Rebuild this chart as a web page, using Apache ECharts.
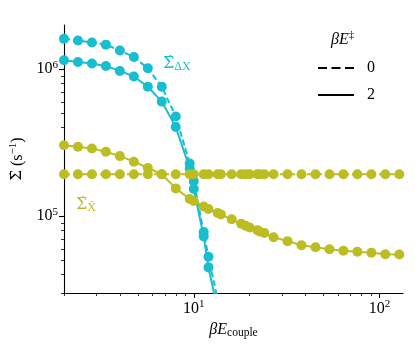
<!DOCTYPE html>
<html><head><meta charset="utf-8">
<script src="https://cdn.jsdelivr.net/npm/echarts@6/dist/echarts.min.js"></script>
<style>html,body{margin:0;padding:0;background:#fff}#c{width:415px;height:348px}</style>
</head><body><div id="c"></div>
<script>
// x values (βE_couple)
const xValues = [2, 2.378, 2.828, 3.364, 4, 4.757, 5.657, 6.727, 8, 9.514, 10, 11.31, 12, 13.45, 14, 16, 18, 19.03, 20, 22, 22.63, 24, 26.91, 32, 38.05, 45.25, 53.82, 64, 76.1, 90.5, 107.6, 128];
// Σ̇_ΔX, βE‡ = 0 (dashed) and 2 (solid)
const cyanDashed = [1.61e6, 1.57e6, 1.52e6, 1.47e6, 1.34e6, 1.21e6, 1.016e6, 7.6e5, 4.77e5, 2.28e5, 1.73e5, 7.8e4, 5.29e4, 2.7e4];
const cyanSolid  = [1.15e6, 1.12e6, 1.093e6, 1.053e6, 9.74e5, 8.93e5, 7.6e5, 6.02e5, 4.04e5, 2.11e5, 1.53e5, 7.29e4, 4.48e4, 2.3e4];
// Σ̇_X̄, βE‡ = 0 (dashed) and 2 (solid)
const oliveDashed = [1.93e5, 1.93e5, 1.93e5, 1.93e5, 1.93e5, 1.93e5, 1.93e5, 1.93e5, 1.93e5, 1.93e5, 1.93e5, 1.93e5, 1.93e5, 1.93e5, 1.93e5, 1.93e5, 1.93e5, 1.93e5, 1.93e5, 1.93e5, 1.93e5, 1.93e5, 1.93e5, 1.93e5, 1.93e5, 1.93e5, 1.93e5, 1.93e5, 1.93e5, 1.93e5, 1.93e5, 1.93e5];
const oliveSolid = [3.04e5, 2.965e5, 2.888e5, 2.744e5, 2.563e5, 2.349e5, 2.127e5, 1.929e5, 1.545e5, 1.308e5, 1.27e5, 1.164e5, 1.12e5, 1.052e5, 1.028e5, 9.52e4, 8.87e4, 8.6e4, 8.38e4, 8.02e4, 7.87e4, 7.68e4, 7.19e4, 6.76e4, 6.34e4, 6.14e4, 5.95e4, 5.81e4, 5.72e4, 5.63e4, 5.51e4, 5.48e4];
// ticks
const xMajor = [10, 100];
const xMinor = [2,3,4,5,6,7,8,9,20,30,40,50,60,70,80,90];
const yMajor = [1e5, 1e6];
const yMinor = [3e4,4e4,5e4,6e4,7e4,8e4,9e4,2e5,3e5,4e5,5e5,6e5,7e5,8e5,9e5];
const legendLabels = ['0', '2'];

const CYAN = '#17becf', OLIVE = '#bcbd22';
const FONT = 'Liberation Serif';
const SFONT = 'DejaVu Serif';
const pairs = (ys) => ys.map((y, i) => [xValues[i], y]);
const powLabel = v => '{b|10}{s|' + Math.round(Math.log10(v)) + '}';
const labelRich = { b: {fontSize: 16, fontFamily: FONT, color: '#000'}, s: {fontSize: 11, fontFamily: FONT, color: '#000', padding: [0,0,9,0]} };

function mkSeries(name, ys, color, dashed) {
  return {
    name: name, type: 'line', xAxisIndex: 0, yAxisIndex: 0,
    data: pairs(ys), symbol: 'circle', symbolSize: 10, showSymbol: true,
    itemStyle: {color: color}, lineStyle: {color: color, width: 2, type: dashed ? [6, 3] : 'solid'},
    emphasis: {disabled: true}, silent: true, animation: false, clip: true, z: 3
  };
}

const chart = echarts.init(document.getElementById('c'));
const common = {type: 'log', logBase: 10, splitLine: {show: false}, minorTick: {show: false}};
chart.setOption({
  animation: false,
  grid: {left: 64, right: 12, top: 25, bottom: 55, containLabel: false},
  xAxis: [
    Object.assign({}, common, {min: 2, max: 134, position: 'bottom',
      axisLine: {show: true, lineStyle: {color: '#000', width: 1.1}},
      axisTick: {show: true, customValues: xMajor, length: 5, lineStyle: {color: '#000', width: 1.1}},
      axisLabel: {show: true, customValues: xMajor, formatter: powLabel, rich: labelRich, margin: 6},
      name: '{i|βE}{sub|couple}', nameLocation: 'middle', nameGap: 26,
      nameTextStyle: {rich: {i: {fontSize: 16, fontFamily: FONT, fontStyle: 'italic', color: '#000'}, sub: {fontSize: 11.5, fontFamily: FONT, color: '#000', padding: [6,0,0,0]}}}
    }),
    Object.assign({}, common, {min: 2, max: 134, position: 'bottom', gridIndex: 0,
      axisLine: {show: false},
      axisTick: {show: true, customValues: xMinor, length: 3, lineStyle: {color: '#000', width: 0.8}},
      axisLabel: {show: false}
    })
  ],
  yAxis: [
    Object.assign({}, common, {min: 3e4, max: 2e6, position: 'left',
      axisLine: {show: true, lineStyle: {color: '#000', width: 1.1}},
      axisTick: {show: true, customValues: yMajor, length: 5, lineStyle: {color: '#000', width: 1.1}},
      axisLabel: {show: true, customValues: yMajor, formatter: powLabel, rich: labelRich, margin: 6},
      name: '{s|Σ̇} (s{sup|−1})', nameLocation: 'middle', nameGap: 34, nameRotate: 90,
      nameTextStyle: {fontSize: 16, fontFamily: FONT, color: '#000', rich: {s: {fontSize: 15, fontFamily: SFONT, color: '#000'}, sup: {fontSize: 11, fontFamily: FONT, color: '#000', padding: [0,0,8,0]}}}
    }),
    Object.assign({}, common, {min: 3e4, max: 2e6, position: 'left', gridIndex: 0,
      axisLine: {show: false},
      axisTick: {show: true, customValues: yMinor, length: 3, lineStyle: {color: '#000', width: 0.8}},
      axisLabel: {show: false}
    })
  ],
  legend: {
    data: legendLabels, orient: 'vertical', left: 312, top: 55, itemWidth: 36, itemHeight: 14, itemGap: 11,
    itemStyle: {opacity: 0},
    textStyle: {fontSize: 16, fontFamily: FONT, color: '#000', padding: [0,0,0,8]},
    selectedMode: false
  },
  graphic: [
    {type: 'text', left: 331, top: 30, style: {text: '{i|βE}{sup|‡}', rich: {i: {fontSize: 16, fontFamily: FONT, fontStyle: 'italic', fill: '#000'}, sup: {fontSize: 11, fontFamily: FONT, fill: '#000', padding: [0,0,9,0]}}}},
    {type: 'text', left: 163, top: 56, style: {text: '{s|Σ̇}{sub|ΔX}', rich: {s: {fontSize: 16, fontFamily: SFONT, fill: CYAN}, sub: {fontSize: 12, fontFamily: FONT, fill: CYAN, padding: [6,0,0,0]}}}},
    {type: 'text', left: 76, top: 197, style: {text: '{s|Σ̇}{sub|X̄}', rich: {s: {fontSize: 16, fontFamily: SFONT, fill: OLIVE}, sub: {fontSize: 12, fontFamily: FONT, fill: OLIVE, padding: [6,0,0,0]}}}}
  ],
  series: [
    mkSeries('c0', cyanDashed, CYAN, true),
    mkSeries('c2', cyanSolid, CYAN, false),
    mkSeries('o0', oliveDashed, OLIVE, true),
    mkSeries('o2', oliveSolid, OLIVE, false),
    {name: '0', type: 'line', data: [], symbol: 'none', symbolSize: 0, itemStyle: {color: '#000'}, lineStyle: {color: '#000', width: 2.4, type: [9, 4.5]}},
    {name: '2', type: 'line', data: [], symbol: 'none', symbolSize: 0, itemStyle: {color: '#000'}, lineStyle: {color: '#000', width: 2.4, type: 'solid'}}
  ]
});
</script></body></html>
